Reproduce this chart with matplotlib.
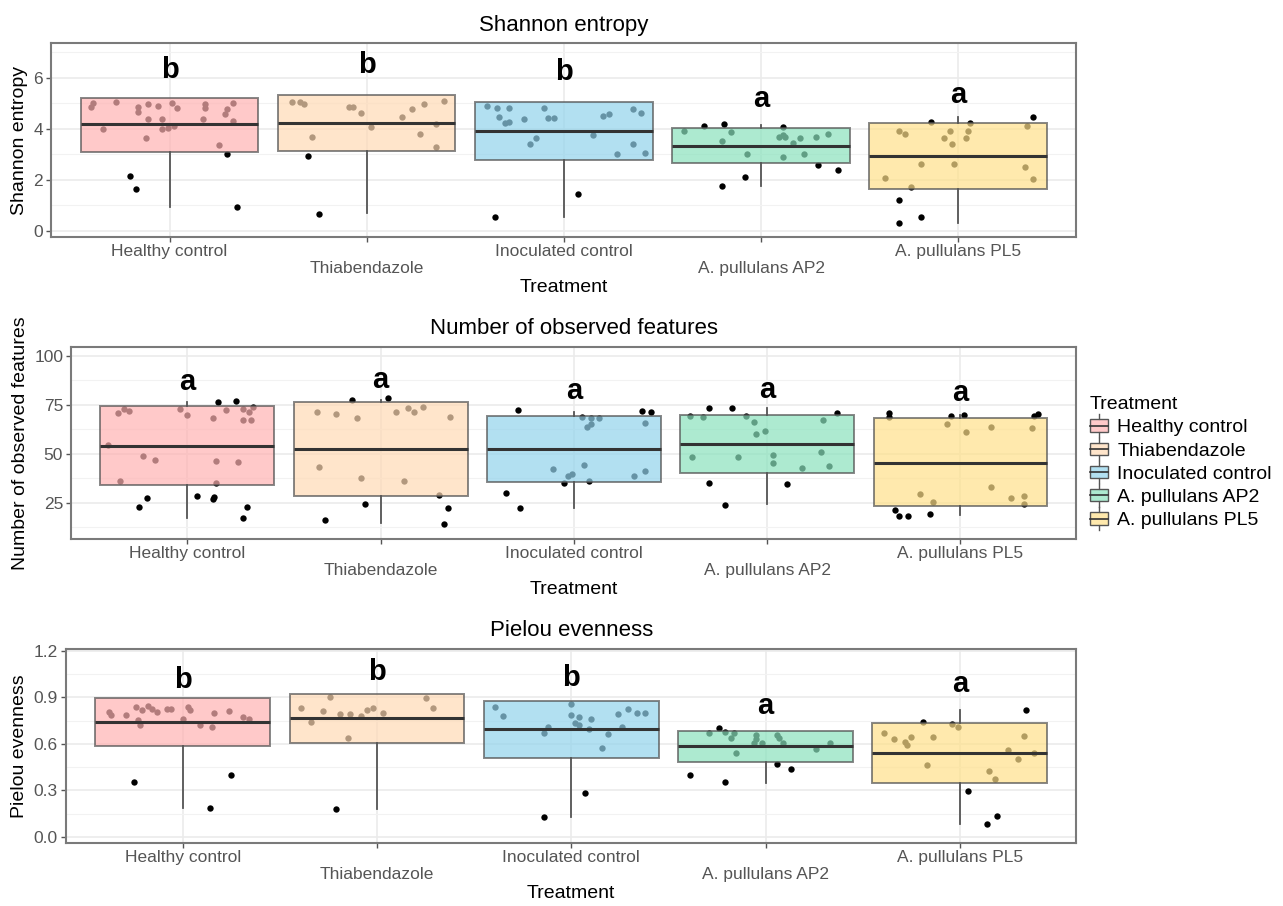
import numpy as np
import matplotlib
matplotlib.use("Agg")
import matplotlib.pyplot as plt
from matplotlib.legend_handler import HandlerBase
from matplotlib.patches import Rectangle, Patch
from matplotlib.lines import Line2D
from matplotlib.ticker import FormatStrFormatter

plt.rcParams['font.family'] = ['Liberation Sans', 'DejaVu Sans']

# Grupos de tratamento
treatments = ["Healthy control", "Thiabendazole", "Inoculated control",
              "A. pullulans AP2", "A. pullulans PL5"]
fill_colors = ["#FFB2B2", "#FFDAB5", "#92D3EC", "#8AE2BD", "#FFE08A"]

# ---------------- Shannon entropy ----------------
shannon_q1 = [3.10, 3.15, 2.78, 2.67, 1.65]
shannon_med = [4.18, 4.25, 3.92, 3.33, 2.94]
shannon_q3 = [5.22, 5.33, 5.07, 4.04, 4.22]
shannon_lo = [0.94, 0.70, 0.55, 1.77, 0.32]
shannon_hi = [5.22, 5.33, 5.07, 4.16, 4.47]
shannon_letters = ["b", "b", "b", "a", "a"]
shannon_letter_y = [5.99, 6.21, 5.92, 4.85, 5.03]
shannon_vals = [
    [5.0, 4.86, 5.06, 4.0, 4.87, 4.66, 4.98, 4.9, 4.4, 3.65, 4.4, 4.0, 4.04, 4.12,
     5.0, 4.84, 4.97, 4.82, 4.4, 4.78, 5.03, 4.58, 4.3, 3.37, 2.17, 1.64, 3.02, 0.92],
    [5.05, 5.05, 4.97, 3.7, 4.87, 4.87, 4.62, 4.07, 4.48, 4.8, 4.98, 3.8, 4.19, 3.3,
     5.11, 2.94, 0.67],
    [4.9, 4.82, 4.82, 4.46, 4.25, 4.29, 4.4, 3.4, 3.64, 4.82, 4.42, 4.42, 3.76, 4.52,
     4.6, 3.0, 4.78, 3.4, 4.62, 3.05, 0.55, 1.45],
    [4.12, 4.2, 4.08, 3.9, 3.88, 3.53, 3.0, 3.7, 3.68, 3.77, 3.46, 3.64, 3.68, 3.8,
     2.9, 3.0, 2.6, 2.39, 1.77, 2.1],
    [4.27, 4.24, 4.47, 3.93, 3.8, 3.9, 3.66, 3.4, 3.9, 3.66, 4.1, 2.62, 2.62, 2.52,
     2.08, 1.72, 2.03, 1.21, 0.32, 0.56],
]
shannon_jit = [
    [-0.39, -0.40, -0.27, -0.34, -0.16, -0.16, -0.11, -0.06, -0.11, -0.12, -0.04, -0.04,
     -0.01, 0.02, 0.01, 0.04, 0.18, 0.18, 0.17, 0.29, 0.32, 0.28, 0.32, 0.25, -0.20,
     -0.17, 0.29, 0.34],
    [-0.38, -0.34, -0.32, -0.28, -0.09, -0.07, -0.03, 0.02, 0.18, 0.23, 0.29, 0.27,
     0.35, 0.35, 0.39, -0.30, -0.24],
    [-0.39, -0.34, -0.28, -0.33, -0.30, -0.28, -0.20, -0.17, -0.14, -0.10, -0.08, -0.05,
     0.15, 0.20, 0.23, 0.27, 0.35, 0.35, 0.39, 0.41, -0.35, 0.07],
    [-0.29, -0.19, 0.11, -0.39, -0.15, -0.20, -0.07, 0.09, 0.12, 0.11, 0.16, 0.20, 0.28,
     0.34, 0.11, 0.22, 0.29, 0.39, -0.20, -0.08],
    [-0.14, 0.06, 0.38, -0.30, -0.27, -0.04, -0.07, -0.03, 0.05, 0.04, 0.35, -0.19,
     -0.02, 0.34, -0.37, -0.24, 0.38, -0.30, -0.30, -0.19],
]

# ---------------- Number of observed features ----------------
features_q1 = [34.2, 28.7, 35.9, 40.5, 23.5]
features_med = [54.2, 52.6, 52.6, 55.1, 45.6]
features_q3 = [74.5, 76.4, 69.4, 69.9, 68.2]
features_lo = [17.2, 14.6, 22.3, 24.5, 18.9]
features_hi = [76.7, 77.6, 71.6, 73.3, 70.0]
features_letters = ["a", "a", "a", "a", "a"]
features_letter_y = [82.7, 83.5, 77.9, 78.7, 77.0]
features_vals = [
    [71.1, 72.8, 71.9, 54.6, 49.0, 46.9, 36.4, 73.0, 69.9, 68.2, 72.4, 72.8, 71.6, 67.3,
     67.3, 73.8, 46.6, 45.8, 35.4, 23.1, 27.7, 28.6, 26.9, 28.2, 76.7, 77.0, 23.1, 17.2],
    [71.6, 70.4, 68.4, 43.5, 37.6, 71.6, 73.3, 71.6, 74.0, 68.7, 36.4, 29.1, 77.6, 78.4,
     24.5, 16.3, 22.3, 14.3],
    [72.4, 30.3, 22.3, 35.0, 42.3, 38.9, 39.8, 44.4, 36.2, 68.7, 68.2, 68.2, 63.6, 65.2,
     38.9, 66.0, 72.0, 71.5, 41.3],
    [69.4, 68.8, 69.4, 66.2, 60.2, 61.9, 67.3, 71.0, 48.6, 48.6, 49.5, 45.3, 42.7, 51.2,
     43.9, 73.3, 73.3, 35.4, 34.7, 24.0],
    [70.8, 69.1, 69.4, 69.9, 69.4, 70.2, 21.4, 18.4, 18.4, 19.2, 65.3, 61.4, 63.9, 63.1,
     29.6, 25.4, 33.3, 27.7, 28.6, 24.5],
]
features_jit = [
    [-0.36, -0.33, -0.30, -0.41, -0.23, -0.17, -0.35, -0.04, 0.00, 0.13, 0.20, 0.29,
     0.32, 0.29, 0.33, 0.34, 0.15, 0.26, 0.15, -0.25, -0.21, 0.05, 0.13, 0.14, 0.16,
     0.25, 0.31, 0.29],
    [-0.33, -0.23, -0.12, -0.32, -0.10, 0.08, 0.14, 0.17, 0.22, 0.36, 0.12, 0.30, -0.15,
     0.04, -0.08, -0.29, 0.35, 0.33],
    [-0.29, -0.35, -0.28, -0.05, -0.11, -0.03, -0.01, 0.05, 0.08, 0.04, 0.09, 0.13, 0.07,
     0.09, 0.31, 0.37, 0.35, 0.40, 0.37],
    [-0.40, -0.33, -0.11, -0.07, -0.06, -0.01, 0.29, 0.36, -0.39, -0.15, 0.03, 0.03, 0.18,
     0.28, 0.32, -0.30, -0.18, -0.30, 0.10, -0.22],
    [-0.37, -0.37, -0.05, 0.02, 0.38, 0.40, -0.34, -0.32, -0.27, -0.16, -0.07, 0.03, 0.16,
     0.37, -0.21, -0.14, 0.16, 0.26, 0.33, 0.33],
]

# ---------------- Pielou evenness ----------------
pielou_q1 = [0.587, 0.608, 0.512, 0.486, 0.346]
pielou_med = [0.740, 0.766, 0.695, 0.587, 0.540]
pielou_q3 = [0.895, 0.923, 0.877, 0.686, 0.734]
pielou_lo = [0.185, 0.181, 0.131, 0.350, 0.082]
pielou_hi = [0.895, 0.923, 0.877, 0.686, 0.819]
pielou_letters = ["b", "b", "b", "a", "a"]
pielou_letter_y = [0.960, 1.013, 0.974, 0.794, 0.933]
pielou_vals = [
    [0.808, 0.787, 0.787, 0.841, 0.819, 0.755, 0.723, 0.847, 0.826, 0.804, 0.824, 0.824,
     0.760, 0.841, 0.819, 0.723, 0.708, 0.802, 0.813, 0.776, 0.761, 0.355, 0.187, 0.402],
    [0.830, 0.740, 0.813, 0.901, 0.792, 0.637, 0.792, 0.781, 0.819, 0.834, 0.802, 0.895,
     0.834, 0.183],
    [0.837, 0.783, 0.669, 0.712, 0.856, 0.787, 0.772, 0.734, 0.723, 0.695, 0.760, 0.576,
     0.665, 0.794, 0.712, 0.824, 0.798, 0.800, 0.131, 0.286],
    [0.673, 0.700, 0.680, 0.641, 0.673, 0.544, 0.604, 0.658, 0.630, 0.608, 0.658, 0.641,
     0.604, 0.566, 0.604, 0.400, 0.355, 0.471, 0.441],
    [0.673, 0.632, 0.611, 0.595, 0.647, 0.647, 0.463, 0.727, 0.712, 0.426, 0.374, 0.561,
     0.501, 0.654, 0.540, 0.744, 0.821, 0.297, 0.082, 0.135],
]
pielou_jit = [
    [-0.38, -0.37, -0.29, -0.24, -0.21, -0.23, -0.22, -0.18, -0.16, -0.13, -0.08, -0.06,
     0.00, 0.03, 0.04, 0.09, 0.15, 0.16, 0.24, 0.31, 0.34, -0.25, 0.14, 0.25],
    [-0.39, -0.34, -0.28, -0.24, -0.19, -0.15, -0.14, -0.08, -0.05, -0.02, 0.03, 0.25,
     0.29, -0.21],
    [-0.39, -0.35, -0.14, -0.12, 0.00, 0.00, 0.04, 0.02, 0.04, 0.09, 0.10, 0.16, 0.19,
     0.24, 0.26, 0.29, 0.34, 0.38, -0.14, 0.07],
    [-0.29, -0.24, -0.21, -0.18, -0.16, -0.15, -0.06, -0.05, -0.05, -0.02, 0.06, 0.07,
     0.09, 0.26, 0.33, -0.39, -0.21, 0.06, 0.13],
    [-0.39, -0.34, -0.28, -0.27, -0.25, -0.14, -0.17, -0.04, -0.01, 0.15, 0.18, 0.25,
     0.30, 0.33, 0.38, -0.19, 0.34, 0.04, 0.14, 0.19],
]


# Glifo da legenda no estilo boxplot
class BoxHandler(HandlerBase):
    def create_artists(self, legend, orig_handle, xdescent, ydescent, width, height,
                       fontsize, trans):
        x0, y0 = -xdescent, -ydescent
        cx = x0 + width / 2
        rect = Rectangle((x0, y0 + height * 0.15), width, height * 0.7,
                         facecolor=orig_handle.get_facecolor(), edgecolor="#555555",
                         lw=1.0, transform=trans)
        med = Line2D([x0, x0 + width], [y0 + height / 2] * 2, color="#333333",
                     lw=1.2, transform=trans)
        w1 = Line2D([cx, cx], [y0 - height * 0.15, y0 + height * 0.15], color="#555555",
                    lw=1.0, transform=trans)
        w2 = Line2D([cx, cx], [y0 + height * 0.85, y0 + height * 1.15], color="#555555",
                    lw=1.0, transform=trans)
        return [w1, w2, rect, med]


def draw_panel(ax, vals, jit, q1, med, q3, lo, hi, letters, letter_y,
               ylim, yticks, yminor, ylabel, title, fmt):
    positions = np.arange(1, len(treatments) + 1)

    # Pontos (ficam por baixo das caixas semitransparentes)
    for i, pos in enumerate(positions):
        ax.scatter(pos + np.array(jit[i]), vals[i], s=21, color="black",
                   linewidths=0, zorder=2)

    stats = []
    for i in range(len(treatments)):
        stats.append(dict(med=med[i], q1=q1[i], q3=q3[i], whislo=lo[i], whishi=hi[i]))
    bp = ax.bxp(stats, positions=positions, widths=0.9, patch_artist=True,
                showfliers=False, showcaps=False, zorder=3,
                boxprops=dict(edgecolor="#555555", linewidth=1.4),
                medianprops=dict(color="#333333", linewidth=2.2),
                whiskerprops=dict(color="#555555", linewidth=1.3))
    for patch, col in zip(bp["boxes"], fill_colors):
        patch.set_facecolor(col)
        patch.set_alpha(0.7)
        patch.set_edgecolor((0.33, 0.33, 0.33, 1.0))

    # Letras de significancia
    for pos, lab, y in zip(positions, letters, letter_y):
        ax.text(pos, y, lab, ha="center", va="baseline", fontsize=21,
                fontweight="bold", zorder=4)

    ax.set_xlim(0.4, 5.6)
    ax.set_ylim(*ylim)
    ax.set_yticks(yticks)
    ax.set_yticks(yminor, minor=True)
    ax.yaxis.set_major_formatter(FormatStrFormatter(fmt))
    ax.set_xticks(positions)
    ax.set_xticklabels([t if i % 2 == 0 else "\n" + t for i, t in enumerate(treatments)])

    ax.grid(True, which="major", color="#EBEBEB", linewidth=1.2)
    ax.grid(True, which="minor", axis="y", color="#F2F2F2", linewidth=0.8)
    ax.set_axisbelow(True)
    for sp in ax.spines.values():
        sp.set_color("#7A7A7A")
        sp.set_linewidth(1.5)
    ax.tick_params(axis="both", which="major", length=3.5, width=1.0, color="#555555",
                   labelcolor="#555555", labelsize=12.5)
    ax.tick_params(axis="x", pad=1.5)
    ax.tick_params(axis="y", pad=2.5)
    ax.tick_params(axis="y", which="minor", length=0)

    ax.set_xlabel("Treatment", fontsize=14, labelpad=2)
    ax.set_ylabel(ylabel, fontsize=14, labelpad=4)
    ax.set_title(title, fontsize=16, pad=9)


fig = plt.figure(figsize=(12.83, 9.06), dpi=100)

ax1 = fig.add_axes([0.040, 0.7384, 0.799, 0.2141])
draw_panel(ax1, shannon_vals, shannon_jit, shannon_q1, shannon_med, shannon_q3,
           shannon_lo, shannon_hi, shannon_letters, shannon_letter_y,
           (-0.24, 7.37), [0, 2, 4, 6], [1, 3, 5, 7], "Shannon entropy",
           "Shannon entropy", "%g")

ax2 = fig.add_axes([0.0557, 0.4051, 0.7833, 0.2119])
draw_panel(ax2, features_vals, features_jit, features_q1, features_med, features_q3,
           features_lo, features_hi, features_letters, features_letter_y,
           (6.6, 104.6), [25, 50, 75, 100], [12.5, 37.5, 62.5, 87.5],
           "Number of observed features", "Number of observed features", "%g")

ax3 = fig.add_axes([0.0515, 0.0695, 0.7875, 0.2142])
draw_panel(ax3, pielou_vals, pielou_jit, pielou_q1, pielou_med, pielou_q3,
           pielou_lo, pielou_hi, pielou_letters, pielou_letter_y,
           (-0.039, 1.213), [0.0, 0.3, 0.6, 0.9, 1.2], [0.15, 0.45, 0.75, 1.05],
           "Pielou evenness", "Pielou evenness", "%.1f")

# Legenda
handles = [Patch(facecolor=matplotlib.colors.to_rgba(c, 0.7)) for c in fill_colors]
fig.legend(handles, treatments, title="Treatment", loc="upper left",
           bbox_to_anchor=(1090 / 1283, 1 - 396 / 906), frameon=False,
           fontsize=14, title_fontsize=14, alignment="left",
           handler_map={Patch: BoxHandler()}, handlelength=0.9, handleheight=1.0,
           handletextpad=0.5, labelspacing=0.2, borderaxespad=0, borderpad=0)

fig.savefig("out.png", dpi=100)
